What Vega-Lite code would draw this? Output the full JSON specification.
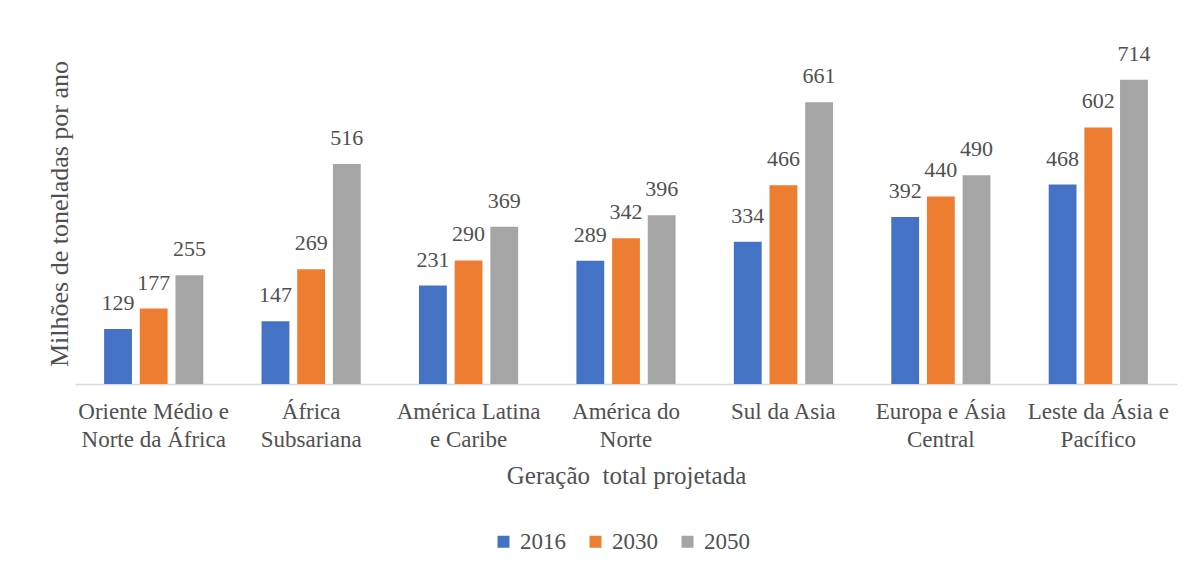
{
  "$schema": "https://vega.github.io/schema/vega-lite/v6.json",
  "width": 1102,
  "height": 341,
  "autosize": {"type": "none"},
  "padding": {"left": 75, "top": 43, "right": 14, "bottom": 188},
  "background": "white",
  "config": {
    "view": {"stroke": null},
    "font": "Liberation Serif",
    "axis": {"labelFont": "Liberation Serif", "titleFont": "Liberation Serif", "labelColor": "#505050", "titleColor": "#505050", "titleFontWeight": "normal"},
    "legend": {"labelFont": "Liberation Serif", "labelColor": "#505050"},
    "text": {"font": "Liberation Serif"}
  },
  "data": {
    "values": [
      {"regiao": "Oriente Médio e Norte da África", "ano": "2016", "valor": 129},
      {"regiao": "Oriente Médio e Norte da África", "ano": "2030", "valor": 177},
      {"regiao": "Oriente Médio e Norte da África", "ano": "2050", "valor": 255},
      {"regiao": "África Subsariana", "ano": "2016", "valor": 147},
      {"regiao": "África Subsariana", "ano": "2030", "valor": 269},
      {"regiao": "África Subsariana", "ano": "2050", "valor": 516},
      {"regiao": "América Latina e Caribe", "ano": "2016", "valor": 231},
      {"regiao": "América Latina e Caribe", "ano": "2030", "valor": 290},
      {"regiao": "América Latina e Caribe", "ano": "2050", "valor": 369},
      {"regiao": "América do Norte", "ano": "2016", "valor": 289},
      {"regiao": "América do Norte", "ano": "2030", "valor": 342},
      {"regiao": "América do Norte", "ano": "2050", "valor": 396},
      {"regiao": "Sul da Asia", "ano": "2016", "valor": 334},
      {"regiao": "Sul da Asia", "ano": "2030", "valor": 466},
      {"regiao": "Sul da Asia", "ano": "2050", "valor": 661},
      {"regiao": "Europa e Ásia Central", "ano": "2016", "valor": 392},
      {"regiao": "Europa e Ásia Central", "ano": "2030", "valor": 440},
      {"regiao": "Europa e Ásia Central", "ano": "2050", "valor": 490},
      {"regiao": "Leste da Ásia e Pacífico", "ano": "2016", "valor": 468},
      {"regiao": "Leste da Ásia e Pacífico", "ano": "2030", "valor": 602},
      {"regiao": "Leste da Ásia e Pacífico", "ano": "2050", "valor": 714}
    ]
  },
  "encoding": {
    "x": {
      "field": "regiao",
      "type": "nominal",
      "sort": null,
      "scale": {"paddingInner": 0.37, "paddingOuter": 0.185},
      "axis": {
        "title": "Geração\u00a0 total projetada",
        "titleFontSize": 25,
        "titlePadding": 12,
        "labelFontSize": 23,
        "labelAngle": 0,
        "labelPadding": 16,
        "labelLineHeight": 28,
        "labelBaseline": "top",
        "ticks": false,
        "domainColor": "#d9d9d9",
        "domainWidth": 1.5,
        "labelExpr": "datum.value == 'Oriente Médio e Norte da África' ? ['Oriente Médio e', 'Norte da África'] : datum.value == 'África Subsariana' ? ['África', 'Subsariana'] : datum.value == 'América Latina e Caribe' ? ['América Latina', 'e Caribe'] : datum.value == 'América do Norte' ? ['América do', 'Norte'] : datum.value == 'Europa e Ásia Central' ? ['Europa e Ásia', 'Central'] : datum.value == 'Leste da Ásia e Pacífico' ? ['Leste da Ásia e', 'Pacífico'] : datum.value"
      }
    },
    "xOffset": {"field": "ano", "type": "nominal", "scale": {"paddingInner": 0.22}},
    "y": {
      "field": "valor",
      "type": "quantitative",
      "scale": {"domain": [0, 800]},
      "axis": {
        "title": "Milhões de toneladas por ano",
        "titleFontSize": 26,
        "titlePadding": 3,
        "labels": false,
        "ticks": false,
        "domain": false,
        "grid": false
      }
    }
  },
  "layer": [
    {
      "mark": {"type": "bar"},
      "encoding": {
        "color": {
          "field": "ano",
          "type": "nominal",
          "scale": {"domain": ["2016", "2030", "2050"], "range": ["#4472C4", "#ED7D31", "#A5A5A5"]},
          "legend": {
            "title": null,
            "orient": "none",
            "legendX": 417,
            "legendY": 487,
            "direction": "horizontal",
            "symbolType": "square",
            "symbolSize": 144,
            "symbolStrokeWidth": 0,
            "labelFontSize": 23,
            "labelOffset": 5,
            "columnPadding": 18
          }
        }
      }
    },
    {
      "mark": {"type": "text", "baseline": "bottom", "dy": -14, "fontSize": 22, "color": "#505050"},
      "encoding": {"text": {"field": "valor", "type": "quantitative"}}
    }
  ]
}
